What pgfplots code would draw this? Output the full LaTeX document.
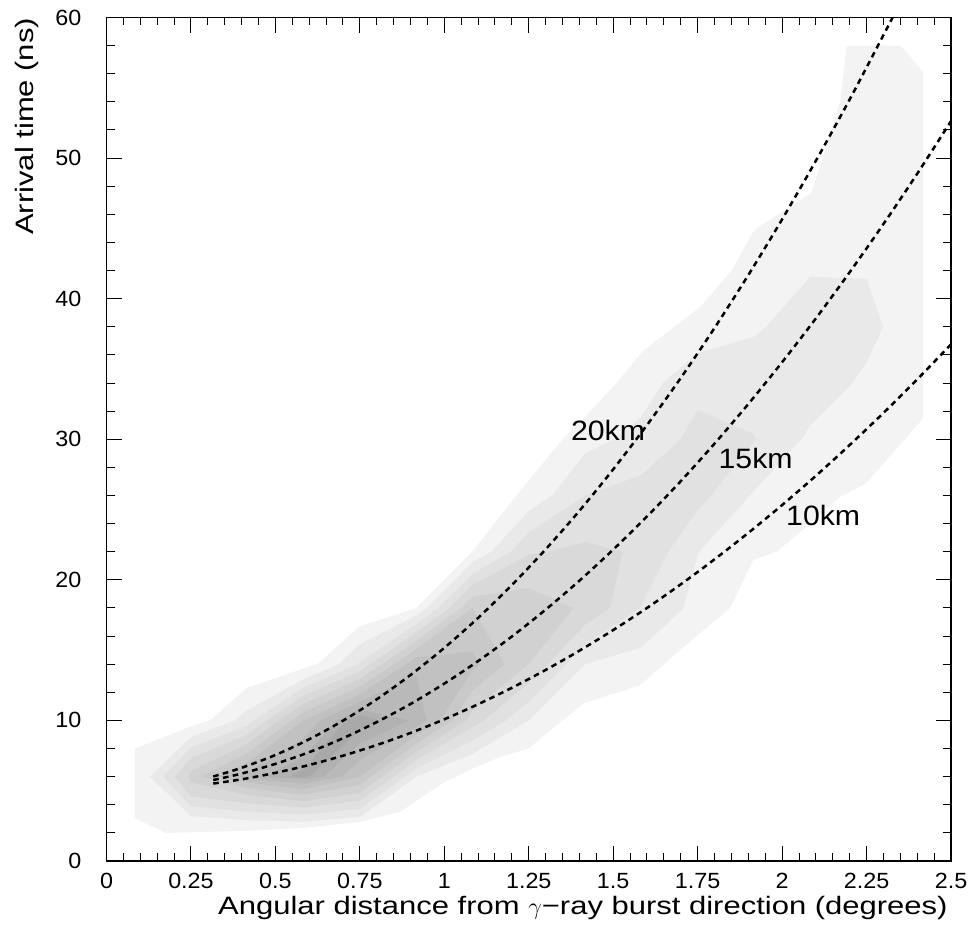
\documentclass[border=0pt]{standalone}
\usepackage{fontspec}
\setmainfont{Liberation Sans}
\newfontfamily\tickfont{Liberation Sans}[FakeStretch=1.06]
\newfontfamily\labfont{Liberation Sans}[FakeStretch=1.23]
\newfontfamily\curvefont{Liberation Sans}[FakeStretch=1.08]
\usepackage{pgfplots}
\pgfplotsset{compat=1.18}
\definecolor{gA}{RGB}{243,243,243}
\definecolor{gB}{RGB}{233,233,233}
\definecolor{gC}{RGB}{225,225,225}
\definecolor{gD}{RGB}{217,217,217}
\definecolor{gE}{RGB}{209,209,209}
\definecolor{gF}{RGB}{201,201,201}
\definecolor{gG}{RGB}{193,193,193}
\definecolor{gH}{RGB}{185,185,185}
\definecolor{gI}{RGB}{177,177,177}
\definecolor{gJ}{RGB}{169,169,169}
\begin{document}
\begin{tikzpicture}
\begin{axis}[
  width=422.25pt, height=421.75pt, scale only axis,
  xmin=0, xmax=2.5, ymin=0, ymax=60,
  xtick={0,0.25,0.5,0.75,1,1.25,1.5,1.75,2,2.25,2.5},
  xticklabels={0,0.25,0.5,0.75,1,1.25,1.5,1.75,2,2.25,2.5},
  ytick={0,10,20,30,40,50,60},
  yticklabels={0,10,20,30,40,50,60},
  minor x tick num=4, minor y tick num=4,
  tick align=inside,
  major tick length=7.7pt, minor tick length=4pt,
  tick style={line width=0.5pt, black},
  axis line style={line width=0.9pt},
  xticklabel style={font=\tickfont\fontsize{11}{13}\selectfont, anchor=base, yshift=-13.5pt},
  yticklabel style={font=\tickfont\fontsize{11}{13}\selectfont, anchor=east, inner sep=0pt, xshift=-12.4pt},
  clip mode=individual,
  axis on top,
]
% contour level 1
\addplot[draw=none, fill=gA] coordinates {
(0.084,8.0) (0.247,9.55) (0.306,10.0) (0.415,12.3) (0.627,14.06) (0.75,16.7) (0.918,18.0) (1.086,22.1) (1.214,26.0) (1.35,30.0) (1.417,31.6) (1.51,34.0) (1.589,36.3) (1.757,39.4) (1.851,42.0) (1.918,44.9) (2.086,47.5) (2.122,50.1) (2.173,54.1) (2.191,58.0) (2.351,58.0) (2.418,56.1) (2.418,31.5) (2.25,26.9) (2.171,25.9) (2.073,23.8) (1.984,22.0) (1.914,21.4) (1.846,18.0) (1.732,15.7) (1.579,12.5) (1.411,11.2) (1.249,8.0) (1.165,7.4) (1.086,6.6) (1.0,5.6) (0.918,4.3) (0.869,3.5) (0.75,2.78) (0.582,2.35) (0.415,2.15) (0.175,2.0) (0.084,3.06)
} -- cycle;
% level 2
\addplot[draw=none, fill=gB] coordinates {
(0.129,6) (0.25,8.81) (0.381,10) (0.4167,10.72) (0.5833,12.92) (0.688,14) (0.75,15.42) (0.9167,17.44) (0.949,18) (1.0833,21.23) (1.139,22) (1.25,24.89) (1.320,26) (1.4167,29.01) (1.504,30) (1.5833,31.6) (1.647,34) (1.75,36.13) (1.9167,37.28) (1.953,38) (2.0833,41.56) (2.25,41.41) (2.299,38) (2.25,35.45) (2.208,34) (2.0833,31) (2.057,30) (1.9167,26.35) (1.905,26) (1.754,22) (1.75,21.76) (1.708,18) (1.5833,15.19) (1.4167,14) (1.25,10) (1.0833,7.62) (0.9167,6) (0.75,3.14) (0.5833,2.8) (0.4167,2.9) (0.25,3.2)
} -- cycle;
% level 3
\addplot[draw=none, fill=gC] coordinates {
(0.168,6) (0.25,8.07) (0.4167,9.63) (0.437,10) (0.5833,12.34) (0.744,14) (0.75,14.13) (0.9167,16.84) (0.982,18) (1.0833,20.42) (1.197,22) (1.25,23.37) (1.4167,26) (1.5833,27.45) (1.70,30) (1.75,32.1) (1.9167,30.36) (1.923,30) (1.9167,29.83) (1.790,26) (1.75,24.95) (1.663,22) (1.5833,18.21) (1.579,18) (1.4167,15.40) (1.361,14) (1.25,11.33) (1.183,10) (1.0833,8.57) (0.9167,6.59) (0.883,6) (0.75,3.71) (0.5833,3.3) (0.4167,3.5) (0.25,3.9)
} -- cycle;
% level 4
\addplot[draw=none, fill=gD] coordinates {
(0.203,6) (0.25,7.33) (0.4167,8.97) (0.474,10) (0.5833,11.75) (0.75,13.51) (0.782,14) (0.9167,16.25) (1.016,18) (1.0833,19.62) (1.25,21.76) (1.306,22) (1.4167,22.67) (1.528,22) (1.491,18) (1.4167,16.81) (1.306,14) (1.25,12.67) (1.117,10) (1.0833,9.52) (0.9167,7.18) (0.85,6) (0.75,4.29) (0.5833,3.8) (0.4167,4.1) (0.25,4.6)
} -- cycle;
% level 5
\addplot[draw=none, fill=gE] coordinates {
(0.242,6) (0.25,6.4) (0.4167,8.31) (0.510,10) (0.5833,11.17) (0.75,12.96) (0.817,14) (0.9167,15.66) (1.050,18) (1.0833,18.81) (1.25,19.41) (1.383,18) (1.25,14) (1.0833,10.71) (1.064,10) (0.9167,7.76) (0.817,6) (0.75,4.86) (0.5833,4.25) (0.4167,4.7) (0.25,5.6)
} -- cycle;
% level 6
\addplot[draw=none, fill=gF] coordinates {
(0.28,6) (0.4167,7.65) (0.547,10) (0.5833,10.58) (0.75,12.41) (0.853,14) (0.9167,15.07) (1.0833,18) (1.178,14) (1.0833,12.14) (1.025,10) (0.9167,8.35) (0.783,6) (0.75,5.43) (0.5833,4.7) (0.4167,5.2)
} -- cycle;
% level 7
\addplot[draw=none, fill=gG] coordinates {
(0.33,6) (0.4167,6.99) (0.5833,10) (0.75,11.86) (0.888,14) (0.9167,14.47) (1.0833,14.92) (1.105,14) (1.0833,13.57) (0.987,10) (0.9167,8.94) (0.75,6) (0.5833,5.1) (0.4167,5.6)
} -- cycle;
% level 8
\addplot[draw=none, fill=gH] coordinates {
(0.39,6) (0.4167,6.33) (0.5833,8.71) (0.632,10) (0.75,11.32) (0.9167,13.2) (0.948,10) (0.9167,9.53) (0.75,7.18) (0.696,6) (0.5833,5.5) (0.4167,5.85)
} -- cycle;
% level 9
\addplot[draw=none, fill=gI] coordinates {
(0.469,6) (0.5833,7.42) (0.681,10) (0.75,10.77) (0.896,10) (0.75,8.35) (0.643,6) (0.5833,5.8)
} -- cycle;
% level 10
\addplot[draw=none, fill=gJ] coordinates {
(0.54,6) (0.5833,6.5) (0.71,10) (0.75,10.4) (0.81,10) (0.75,9.3) (0.60,6) (0.5833,5.95)
} -- cycle;
% 20 km
\addplot[black, line width=1.25pt, dash pattern=on 2.8pt off 2.2pt, smooth] coordinates {
(0.316,6.01) (0.4,6.63) (0.5,7.54) (0.6,8.66) (0.7,9.98) (0.8,11.50) (0.9,13.23)
(1.0,15.16) (1.1,17.29) (1.2,19.63) (1.3,22.17) (1.4,24.91) (1.5,27.86) (1.6,31.01)
(1.7,34.36) (1.8,37.92) (1.9,41.68) (2.0,45.64) (2.1,49.81) (2.2,54.17) (2.3,58.75) (2.327,60)
};
% 15 km
\addplot[black, line width=1.25pt, dash pattern=on 2.8pt off 2.2pt, smooth] coordinates {
(0.316,5.76) (0.4,6.22) (0.5,6.91) (0.6,7.74) (0.7,8.73) (0.8,9.88) (0.9,11.17)
(1.0,12.62) (1.1,14.22) (1.2,15.97) (1.3,17.88) (1.4,19.94) (1.5,22.15) (1.6,24.51)
(1.7,27.02) (1.8,29.69) (1.9,32.51) (2.0,35.48) (2.1,38.60) (2.2,41.88) (2.3,45.31) (2.4,48.89) (2.5,52.63)
};
% 10 km
\addplot[black, line width=1.25pt, dash pattern=on 2.8pt off 2.2pt, smooth] coordinates {
(0.316,5.51) (0.4,5.81) (0.5,6.27) (0.6,6.83) (0.7,7.49) (0.8,8.25) (0.9,9.11)
(1.0,10.08) (1.1,11.15) (1.2,12.32) (1.3,13.59) (1.4,14.96) (1.5,16.43) (1.6,18.00)
(1.7,19.68) (1.8,21.46) (1.9,23.34) (2.0,25.32) (2.1,27.40) (2.2,29.59) (2.3,31.87) (2.4,34.26) (2.5,36.75)
};
\node[anchor=base west, inner sep=0pt, font=\curvefont\fontsize{14}{16}\selectfont] at (axis cs:1.374,29.94) {20km};
\node[anchor=base west, inner sep=0pt, font=\curvefont\fontsize{14}{16}\selectfont] at (axis cs:1.811,27.93) {15km};
\node[anchor=base west, inner sep=0pt, font=\curvefont\fontsize{14}{16}\selectfont] at (axis cs:2.011,23.9) {10km};
\node[anchor=base east, inner sep=0pt, font=\labfont\fontsize{12.6}{15}\selectfont] at (axis cs:2.491,-3.77) {Angular distance from $\gamma$−ray burst direction (degrees)};
\node[rotate=90, anchor=base east, inner sep=0pt, font=\labfont\fontsize{12.6}{15}\selectfont] at (axis cs:-0.2167,60) {Arrival time (ns)};
\coordinate (ll) at (rel axis cs:0,0);
\coordinate (ur) at (rel axis cs:1,1);
\end{axis}
\pgfresetboundingbox
\path[use as bounding box] ([shift={(-53.25pt,-35.5pt)}]ll) rectangle ([shift={(11pt,8.75pt)}]ur);
\end{tikzpicture}
\end{document}
